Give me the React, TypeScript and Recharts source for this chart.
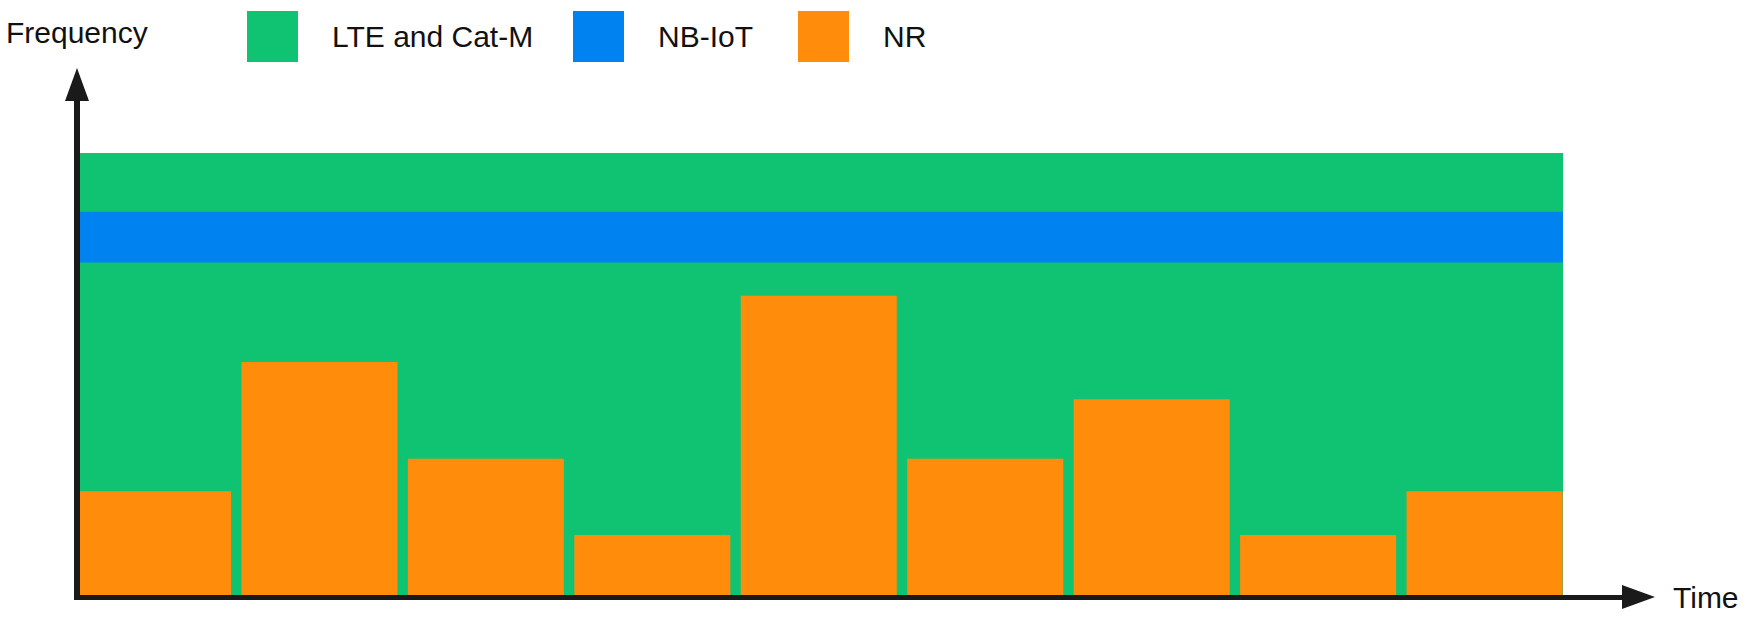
import React from 'react';
import { ComposedChart, Bar, XAxis, YAxis, ReferenceArea } from 'recharts';

// time slots along the x axis
const slots = ['t1', 't2', 't3', 't4', 't5', 't6', 't7', 't8', 't9'];
// NR bandwidth used in each slot (share of the LTE carrier, %)
const nrShare = [23.5, 52.7, 30.8, 13.6, 67.7, 30.8, 44.3, 13.6, 23.5];
// LTE / Cat-M carrier and NB-IoT in-band carrier (%)
const lteBand = [0, 100];
const nbIotBand = [75.2, 86.7];

const seriesNames = ['LTE and Cat-M', 'NB-IoT', 'NR'];
const seriesColors = ['#10C373', '#0082F0', '#FF8C0A'];
const yAxisLabel = 'Frequency';
const xAxisLabel = 'Time';

const data = slots.map((slot, i) => ({ slot, nr: nrShare[i] }));

const FONT = '"Liberation Sans", Arial, sans-serif';
const AXIS_COLOR = '#1a1a1a';
// left edge of each legend swatch
const LEGEND_X = [247, 573, 798];

const App: React.FC = () => {
  return (
    <div style={{ position: 'absolute', left: 0, top: 0, width: 1749, height: 620, background: '#fff', fontFamily: FONT }}>
      <ComposedChart
        width={1749}
        height={620}
        data={data}
        margin={{ top: 153, right: 186, bottom: 25, left: 75 }}
        barCategoryGap={5}
      >
        <XAxis dataKey="slot" hide padding={{ left: -5, right: -5 }} />
        <YAxis type="number" domain={[0, 100]} hide allowDataOverflow />
        {/* LTE carrier */}
        <ReferenceArea
          x1={slots[0]}
          x2={slots[slots.length - 1]}
          y1={lteBand[0]}
          y2={lteBand[1]}
          fill={seriesColors[0]}
          fillOpacity={1}
          stroke="none"
          ifOverflow="hidden"
        />
        {/* NB-IoT in-band */}
        <ReferenceArea
          x1={slots[0]}
          x2={slots[slots.length - 1]}
          y1={nbIotBand[0]}
          y2={nbIotBand[1]}
          fill={seriesColors[1]}
          fillOpacity={1}
          stroke="none"
          ifOverflow="hidden"
        />
        <Bar dataKey="nr" fill={seriesColors[2]} isAnimationActive={false} />
      </ComposedChart>

      {/* axes with arrows, labels and legend */}
      <svg width={1749} height={620} style={{ position: 'absolute', left: 0, top: 0, pointerEvents: 'none' }}>
        <line x1={77} y1={600} x2={77} y2={98} stroke={AXIS_COLOR} strokeWidth={6} />
        <polygon points="77,68 65,101 89,101" fill={AXIS_COLOR} />
        <line x1={74} y1={597.5} x2={1624} y2={597.5} stroke={AXIS_COLOR} strokeWidth={5} />
        <polygon points="1655,597 1622,585 1622,609" fill={AXIS_COLOR} />
        <text x={6} y={43} fontSize={30} fontFamily={FONT} fill="#111">{yAxisLabel}</text>
        <text x={1673} y={608} fontSize={30} fontFamily={FONT} fill="#111">{xAxisLabel}</text>
        {seriesNames.map((name, i) => (
          <g key={name}>
            <rect x={LEGEND_X[i]} y={11} width={51} height={51} fill={seriesColors[i]} />
            <text x={LEGEND_X[i] + 85} y={47} fontSize={30} fontFamily={FONT} fill="#111">{name}</text>
          </g>
        ))}
      </svg>
    </div>
  );
};

export default App;
